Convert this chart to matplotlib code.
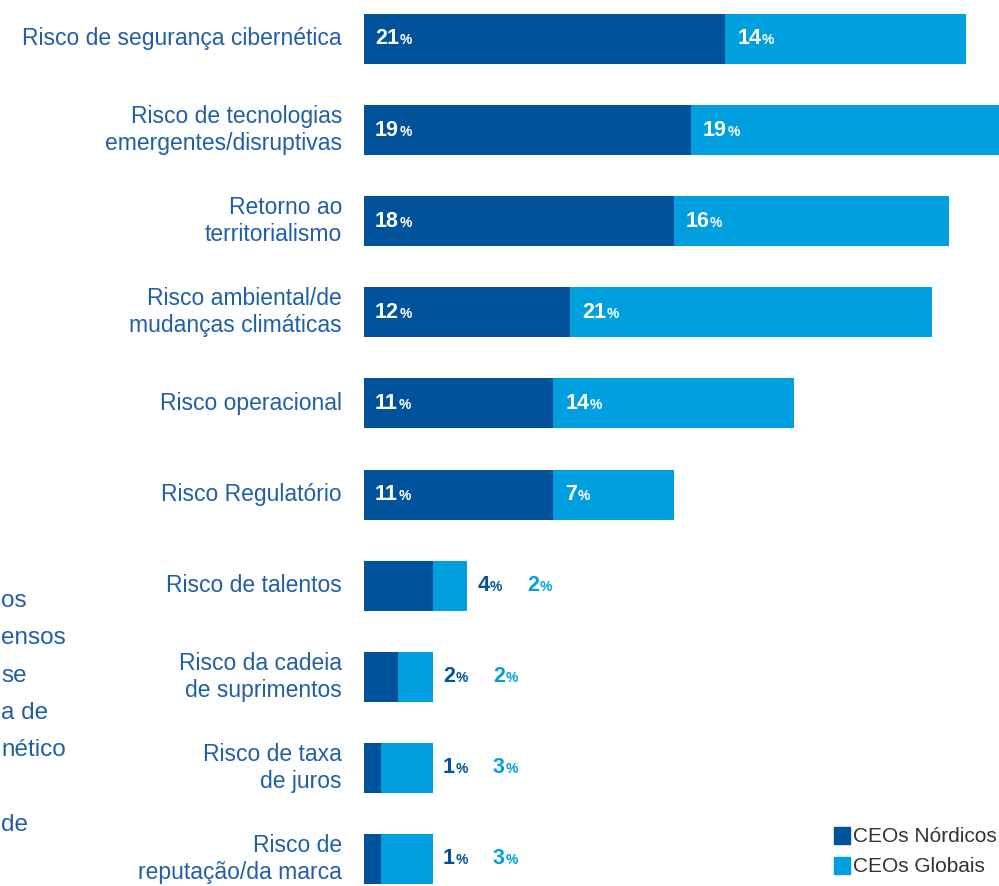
import matplotlib
matplotlib.use("Agg")
from matplotlib import pyplot as plt

# data
categories = [
    "Risco de segurança cibernética",
    "Risco de tecnologias\nemergentes/disruptivas",
    "Retorno ao\nterritorialismo",
    "Risco ambiental/de\nmudanças climáticas",
    "Risco operacional",
    "Risco Regulatório",
    "Risco de talentos",
    "Risco da cadeia\nde suprimentos",
    "Risco de taxa\nde juros",
    "Risco de\nreputação/da marca",
]
nordic = [21, 19, 18, 12, 11, 11, 4, 2, 1, 1]
glob = [14, 19, 16, 21, 14, 7, 2, 2, 3, 3]
series_names = ["CEOs Nórdicos", "CEOs Globais"]
side_text = ["os", "ensos", "se", "a de", "nético", "", "de"]

DARK = "#00529b"
LIGHT = "#009fdf"
TXT = "#1f5fa8"

plt.rcParams["font.family"] = ["Liberation Sans", "DejaVu Sans"]

W, H = 999, 886
fig = plt.figure(figsize=(W / 100, H / 100), dpi=100)

# axes: x=0 at pixel 364, 17.2 px per percent; rows 91.1 px apart, first at 39 px
px_per = 17.2
left = 364
ax = fig.add_axes([left / W, 0, 1 - left / W, 1])
ax.set_xlim(0, (W - left) / px_per)
row = 91.1
ax.set_ylim((H - 39) / row, -39 / row)
ax.axis("off")

ys = list(range(len(categories)))
bh = 50 / row
ax.barh(ys, nordic, height=bh, color=DARK, linewidth=0)
ax.barh(ys, glob, left=nordic, height=bh, color=LIGHT, linewidth=0)


def pct_label(x, y, val, color, dx=0):
    t = ax.annotate(str(val), xy=(x, y), xytext=(dx, 0), textcoords="offset pixels",
                    ha="left", va="center", fontsize=15.5, fontweight="bold",
                    color=color, annotation_clip=False)
    ax.annotate("%", xy=(1.0, 0.1), xycoords=t, xytext=(0.5, 0),
                textcoords="offset pixels", ha="left", va="bottom",
                fontsize=10, fontweight="bold", color=color)


for y, n, g in zip(ys, nordic, glob):
    if n >= 5:
        pct_label(0, y, n, "white", dx=11)
        pct_label(n, y, g, "white", dx=12)
    else:
        pct_label(n + g, y, n, DARK, dx=10)
        pct_label(n + g, y, g, LIGHT, dx=60)

# category labels on the left
for y, c in zip(ys, categories):
    ax.annotate(c, xy=(0, y), xytext=(-22, 0), textcoords="offset pixels",
                ha="right", va="center", fontsize=16.5, color=TXT,
                linespacing=1.22, annotation_clip=False)

# cut-off paragraph at the far left
for i, s in enumerate(side_text):
    fig.text(1 / W, 1 - (601 + 37.3 * i) / H, s, ha="left", va="center",
             fontsize=17.5, color=TXT)

# legend
for i, (name, col) in enumerate(zip(series_names, [DARK, LIGHT])):
    yy = 1 - (836 + 30 * i) / H
    fig.patches.append(plt.Rectangle((834 / W, yy - 8 / H), 16 / W, 17 / H,
                                     transform=fig.transFigure, color=col,
                                     figure=fig))
    fig.text(853 / W, yy, name, ha="left", va="center", fontsize=15,
             color="#333333")

fig.savefig("out.png", dpi=100)
